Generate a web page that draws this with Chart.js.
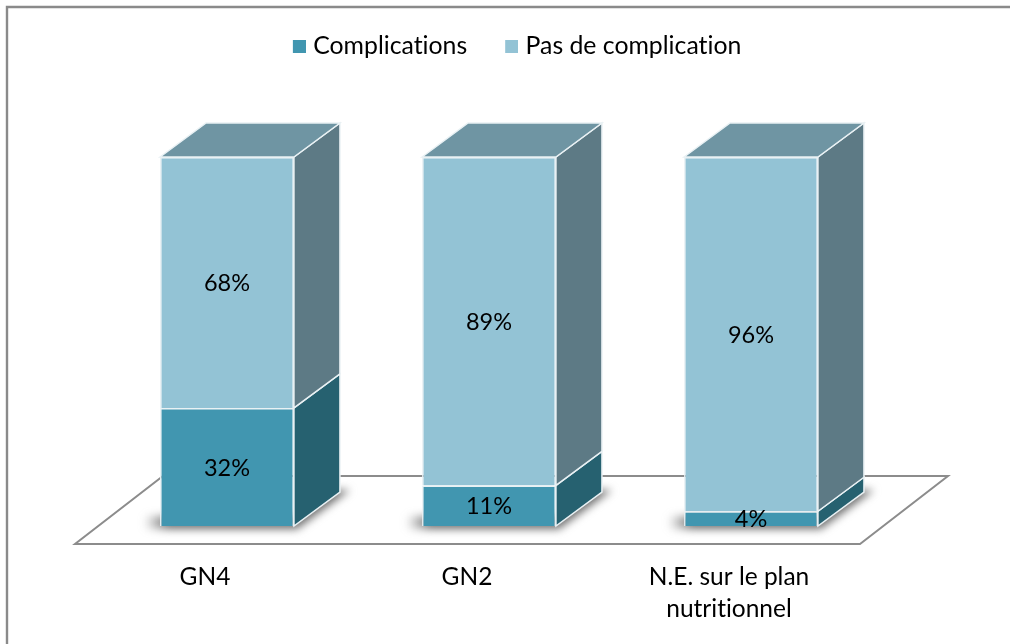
<!DOCTYPE html>
<html><head><meta charset="utf-8">
<style>html,body{margin:0;padding:0;background:#fff}#w{position:absolute;left:0;top:0;width:1010px;height:644px}</style>
<script src="https://cdn.jsdelivr.net/npm/chart.js@4/dist/chart.umd.min.js"></script>
</head><body><div id="w"><canvas id="c" width="1010" height="644"></canvas></div>
<script>
const categories = ["GN4", "GN2", ["N.E. sur le plan", "nutritionnel"]];
const complications = [32, 11, 4];
const pasDeComplication = [68, 89, 96];
const seriesNames = ["Complications", "Pas de complication"];
const depthX = 46, depthY = 34;
const fonts = '"Lato", "Open Sans", sans-serif';
const faces = [
  {front:"#4196b0", side:"#266170"},
  {front:"#93c3d5", side:"#5d7a85", top:"#6f95a3"}
];
const edge = "#e9f1f4";

function poly(ctx, pts){ctx.beginPath();pts.forEach((p,i)=>i?ctx.lineTo(p[0],p[1]):ctx.moveTo(p[0],p[1]));ctx.closePath();}
// legend swatch: 13px square at the right of an 18px wide image
function swatch(color){
  const c=document.createElement("canvas");c.width=18;c.height=13;
  const x=c.getContext("2d");x.fillStyle=color;x.fillRect(5,0,13,13);
  return c;
}

const scene = {
  id:"scene",
  beforeDraw(chart){
    const ctx = chart.ctx, a = chart.chartArea;
    ctx.textRendering="optimizeSpeed";
    ctx.save();
    ctx.strokeStyle="#8a8a8a";ctx.lineWidth=2.4;
    ctx.beginPath();ctx.moveTo(7,644);ctx.lineTo(7,7);ctx.lineTo(1010,7);ctx.stroke();
    const y0 = a.bottom+18, y1 = a.bottom-50;
    poly(ctx,[[a.left-21,y0],[a.right-22,y0],[a.right+66,y1],[a.left+67,y1]]);
    ctx.strokeStyle="#8c8c8c";ctx.lineWidth=2;ctx.stroke();
    ctx.restore();
  },
  afterLayout(chart){
    chart.legend.left+=28.5;chart.legend.right+=28.5;chart.legend.top-=4;
  },
  beforeDatasetsDraw(chart){
    const ctx = chart.ctx;
    const m0 = chart.getDatasetMeta(0).data, m1 = chart.getDatasetMeta(1).data;
    ctx.save();
    m0.forEach(b=>{
      const l=b.x-b.width/2, r=b.x+b.width/2, yb=b.base;
      ctx.save();ctx.filter="blur(4px)";
      const g=ctx.createLinearGradient(l-16,0,l+8,0);
      g.addColorStop(0,"rgba(110,110,110,0)");g.addColorStop(1,"rgba(110,110,110,1)");
      ctx.fillStyle=g;
      poly(ctx,[[l-16,yb+3],[r+3,yb+3],[r+56,yb-36],[r+30,yb-36],[r,yb-10],[l-16,yb-10]]);
      ctx.fill();ctx.restore();
    });
    [m0,m1].forEach((meta,k)=>{
      meta.forEach(b=>{
        const r=b.x+b.width/2, yt=b.y, yb=b.base;
        poly(ctx,[[r,yt],[r+depthX,yt-depthY],[r+depthX,yb-depthY],[r,yb]]);
        ctx.fillStyle=faces[k].side;ctx.fill();
        ctx.strokeStyle=edge;ctx.lineWidth=1.5;ctx.stroke();
      });
    });
    m1.forEach(b=>{
      const r=b.x+b.width/2, l=b.x-b.width/2, yt=b.y;
      poly(ctx,[[l,yt],[l+depthX,yt-depthY],[r+depthX,yt-depthY],[r,yt]]);
      ctx.fillStyle=faces[1].top;ctx.fill();
      ctx.strokeStyle=edge;ctx.lineWidth=1.5;ctx.stroke();
    });
    ctx.restore();
  },
  afterDatasetsDraw(chart){
    const ctx = chart.ctx;
    ctx.save();
    ctx.font='23.5px '+fonts;ctx.fillStyle="#000";ctx.textAlign="center";ctx.textBaseline="middle";
    chart.data.datasets.forEach((ds,k)=>{
      chart.getDatasetMeta(k).data.forEach((b,i)=>{
        ctx.fillText(ds.data[i]+"%", b.x, (b.y+b.base)/2+1);
      });
    });
    ctx.restore();
  }
};

new Chart(document.getElementById("c"),{
  type:"bar",
  data:{labels:categories,datasets:[
    {label:seriesNames[0],data:complications,backgroundColor:faces[0].front,borderColor:edge,borderWidth:1.5,stack:"s",pointStyle:swatch(faces[0].front)},
    {label:seriesNames[1],data:pasDeComplication,backgroundColor:faces[1].front,borderColor:edge,borderWidth:1.5,stack:"s",pointStyle:swatch(faces[1].front)}
  ]},
  options:{
    responsive:false,animation:false,
    layout:{padding:{left:96,right:128,top:0,bottom:0}},
    datasets:{bar:{barPercentage:0.511,categoryPercentage:1}},
    plugins:{
      tooltip:{enabled:false},
      legend:{display:true,position:"top",
        labels:{color:"#000",font:{family:fonts,size:24.8},boxWidth:8,boxHeight:13,padding:38,usePointStyle:true}
      }
    },
    scales:{
      x:{stacked:true,grid:{display:false},border:{display:false},
        afterFit(s){s.height=118;},
        ticks:{color:"#000",font:{family:fonts,size:24.5,lineHeight:1.27},padding:28,labelOffset:-22,maxRotation:0,autoSkip:false}},
      y:{stacked:true,display:false,min:0,max:100}
    }
  },
  plugins:[scene,{id:"legendGap",afterInit(chart){
    const orig=chart.legend.fit;
    chart.legend.fit=function(){orig.call(this);this.height=157;};
  }}]
});
</script></body></html>
